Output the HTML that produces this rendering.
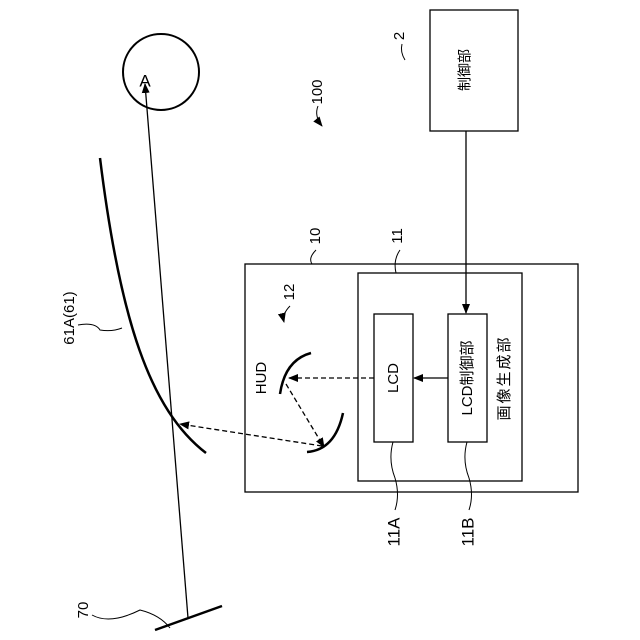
<!DOCTYPE html><html><head><meta charset="utf-8"><style>body{margin:0;background:#fff}svg{display:block}text{font-family:"Liberation Sans","Noto Sans CJK JP",sans-serif;fill:#000}</style></head><body>
<svg width="640" height="640" viewBox="0 0 640 640">
<defs><marker id="ar" markerWidth="10" markerHeight="8" refX="9" refY="4" orient="auto" markerUnits="userSpaceOnUse"><path d="M0,0L10,4L0,8z" fill="#000"/></marker></defs>
<g fill="none" stroke="#000">
<circle cx="161" cy="72" r="38" stroke-width="2"/>
<line x1="188" y1="618" x2="145" y2="84" stroke-width="1.3" marker-end="url(#ar)"/>
<line x1="155" y1="630" x2="222" y2="606" stroke-width="2.5"/>
<path d="M100,158 C120,320 150,410 206,453" stroke-width="2.5"/>
<rect x="430" y="10" width="88" height="121" stroke-width="1.3"/>
<line x1="466" y1="131" x2="466" y2="313" stroke-width="1.3" marker-end="url(#ar)"/>
<rect x="245" y="264" width="333" height="228" stroke-width="1.3"/>
<rect x="358" y="273" width="164" height="208" stroke-width="1.3"/>
<rect x="374" y="314" width="39" height="128" stroke-width="1.3"/>
<rect x="448" y="314" width="39" height="128" stroke-width="1.3"/>
<line x1="448" y1="378" x2="414" y2="378" stroke-width="1.3" marker-end="url(#ar)"/>
<line x1="374" y1="378" x2="289" y2="378" stroke-width="1.3" stroke-dasharray="5,3" marker-end="url(#ar)"/>
<path d="M280,394 Q285,360 311,353" stroke-width="2.5"/>
<path d="M307,452 Q335,450 343,413" stroke-width="2.5"/>
<line x1="286" y1="384" x2="324" y2="447" stroke-width="1.3" stroke-dasharray="5,3" marker-end="url(#ar)"/>
<line x1="322" y1="446" x2="180" y2="424" stroke-width="1.3" stroke-dasharray="5,3" marker-end="url(#ar)"/>
<path d="M405,60 Q400,52 402,44" stroke-width="1"/>
<path d="M318,106 Q314,116 322,126" stroke-width="1" marker-end="url(#ar)"/>
<path d="M316,250 Q308,258 312,264" stroke-width="1"/>
<path d="M400,250 Q393,260 396,273" stroke-width="1"/>
<path d="M290,306 Q282,314 284,322" stroke-width="1" marker-end="url(#ar)"/>
<path d="M78,325 Q95,322 100,330 Q112,332 122,328" stroke-width="1"/>
<path d="M92,615 Q110,625 140,610 Q160,615 170,628" stroke-width="1"/>
<path d="M393,442 Q388,460 395,478 Q400,495 395,510" stroke-width="1"/>
<path d="M467,442 Q462,460 469,478 Q474,495 469,510" stroke-width="1"/>
</g>
<text x="145" y="82" font-size="17" text-anchor="middle" dominant-baseline="middle">A</text>
<g font-size="15" text-anchor="middle">
<text transform="translate(400,36) rotate(-90)" dominant-baseline="middle">2</text>
<text transform="translate(466,70) rotate(-90)" dominant-baseline="middle" font-size="14">制御部</text>
<text transform="translate(318,92) rotate(-90)" dominant-baseline="middle">100</text>
<text transform="translate(316,236) rotate(-90)" dominant-baseline="middle">10</text>
<text transform="translate(398,236) rotate(-90)" dominant-baseline="middle">11</text>
<text transform="translate(290,292) rotate(-90)" dominant-baseline="middle">12</text>
<text transform="translate(262,378) rotate(-90)" dominant-baseline="middle">HUD</text>
<text transform="translate(394,378) rotate(-90)" dominant-baseline="middle">LCD</text>
<text transform="translate(468,378) rotate(-90)" dominant-baseline="middle">LCD制御部</text>
<text transform="translate(505,378) rotate(-90)" dominant-baseline="middle" letter-spacing="2">画像生成部</text>
<text transform="translate(70,318) rotate(-90)" dominant-baseline="middle">61A(61)</text>
<text transform="translate(84,610) rotate(-90)" dominant-baseline="middle">70</text>
<text transform="translate(395,532) rotate(-90)" dominant-baseline="middle" font-size="17">11A</text>
<text transform="translate(469,532) rotate(-90)" dominant-baseline="middle" font-size="17">11B</text>
</g>
</svg></body></html>
